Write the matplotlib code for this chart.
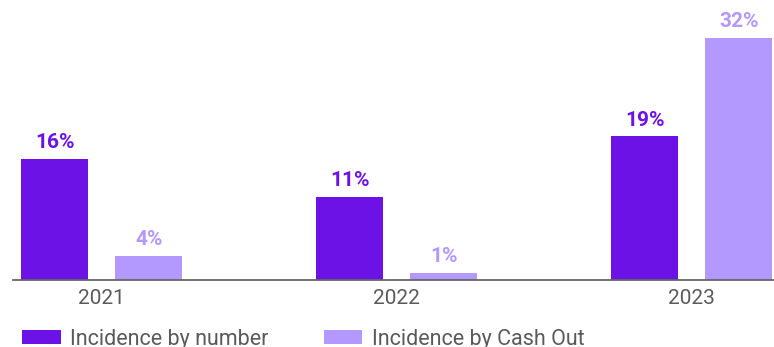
import matplotlib.pyplot as plt
import numpy as np

plt.rcParams['font.family'] = ['Roboto', 'DejaVu Sans']

years = ['2021', '2022', '2023']
by_number = [16, 11, 19]
by_cash_out = [3.2, 0.9, 32]
number_labels = ['16%', '11%', '19%']
cash_out_labels = ['4%', '1%', '32%']

dark = '#6c12e6'
light = '#b399fd'
grey = '#5a5a5a'

fig = plt.figure(figsize=(7.74, 3.47), dpi=100)
ax = fig.add_axes([13 / 774, 1 - 280 / 347, 761 / 774, 280 / 347])

x = np.arange(len(years))
w = 0.227
off = 0.16

b1 = ax.bar(x - off, by_number, w, color=dark, label='Incidence by number')
b2 = ax.bar(x + off, by_cash_out, w, color=light, label='Incidence by Cash Out')

# value labels above the bars
for bars, labels, col in [(b1, number_labels, dark), (b2, cash_out_labels, light)]:
    for rect, lab in zip(bars, labels):
        ax.annotate(lab, (rect.get_x() + rect.get_width() / 2, rect.get_height()),
                    xytext=(0, 7.7), textcoords='offset points',
                    ha='center', va='baseline', fontsize=15,
                    fontweight='bold', color=col)

ax.set_xlim(-0.301, 2.279)
ax.set_ylim(0, 37.0)
ax.set_xticks(x)
ax.set_xticklabels(years)
ax.tick_params(axis='x', length=0, pad=6.5, labelsize=15, labelcolor=grey)
ax.set_yticks([])

for s in ['top', 'right', 'left']:
    ax.spines[s].set_visible(False)
ax.spines['bottom'].set_color('#666666')
ax.spines['bottom'].set_linewidth(1.3)

leg = fig.legend(handles=[b1, b2], loc='center left', bbox_to_anchor=(22 / 774, 8 / 347),
                 ncol=2, frameon=False, prop={'size': 15.5},
                 labelcolor=grey, borderpad=0, borderaxespad=0,
                 handlelength=1.8, handleheight=0.68,
                 handletextpad=0.45, columnspacing=2.55)

fig.savefig('out.png', dpi=100)
